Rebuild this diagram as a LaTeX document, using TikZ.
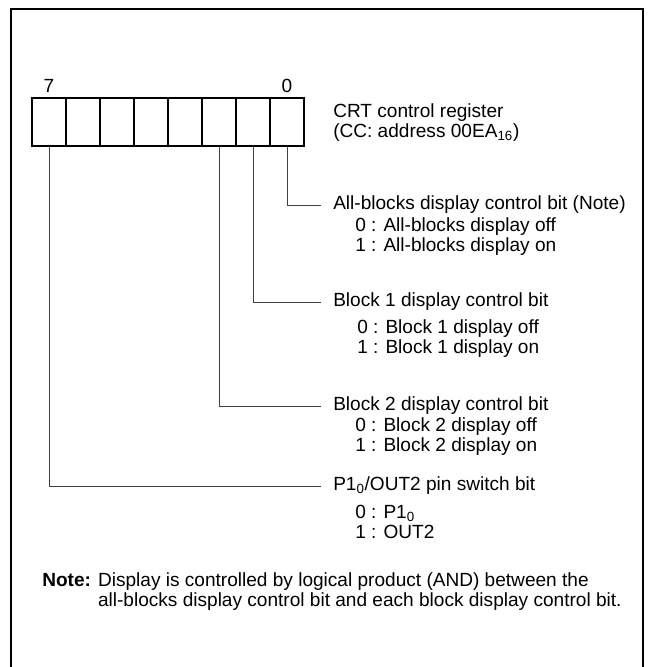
\documentclass[tikz,border=0pt]{standalone}
\usepackage{fontspec}
\setmainfont{Liberation Sans}
\usepackage{tikz}
\usetikzlibrary{positioning}

\begin{document}
\begin{tikzpicture}[x=0.75pt, y=-0.75pt,
  every node/.style={font=\fontsize{14.3}{15}\selectfont},
  cell/.style={draw, line width=1.4pt, minimum width=25.5pt, minimum height=36pt, inner sep=0pt},
  lead/.style={draw=black!75, line width=0.6pt},
  title/.style={anchor=west, inner xsep=9pt, inner ysep=1pt},
  opts/.style={anchor=west, align=left, inner sep=0pt}]
\useasboundingbox (0,0) rectangle (652,667);
% frame
\draw[line width=2.2pt] (11,667) -- (11,9) -- (643,9) -- (643,667);
% register cells, bit 0 on the right
\foreach \i in {0,...,7}
  \node[cell] (c\i) at ({287-34*\i},122) {};
\node[above=0pt of c7.north] (b7) {7};
\node[above=0pt of c0.north] (b0) {0};
\node[opts] (reg) at (333,123) {CRT control register\\(CC: address 00EA\textsubscript{16})};
% bit descriptions
\node[title] (t0) at (321,205) {All-blocks display control bit (Note)};
\node[opts] (o0) at (355,237) {0 : All-blocks display off\\1 : All-blocks display on};
\node[title] (t1) at (321,302) {Block 1 display control bit};
\node[opts] (o1) at (357,339) {0 : Block 1 display off\\1 : Block 1 display on};
\node[title] (t2) at (321,406) {Block 2 display control bit};
\node[opts] (o2) at (355,437) {0 : Block 2 display off\\1 : Block 2 display on};
\node[title] (t7) at (321,486) {P1\textsubscript{0}/OUT2 pin switch bit};
\node[opts] (o7) at (355,522) {0 : P1\textsubscript{0}\\1 : OUT2};
% leader lines
\draw[lead] (c0.south) |- (t0.west);
\draw[lead] (c1.south) |- (t1.west);
\draw[lead] (c2.south) |- (t2.west);
\draw[lead] (c7.south) |- (t7.west);
% note
\node[opts] (note) at (42,592) {\textbf{Note:} Display is controlled by logical product (AND) between the\\
  \phantom{\textbf{Note:} }all-blocks display control bit and each block display control bit.};
\end{tikzpicture}
\end{document}
